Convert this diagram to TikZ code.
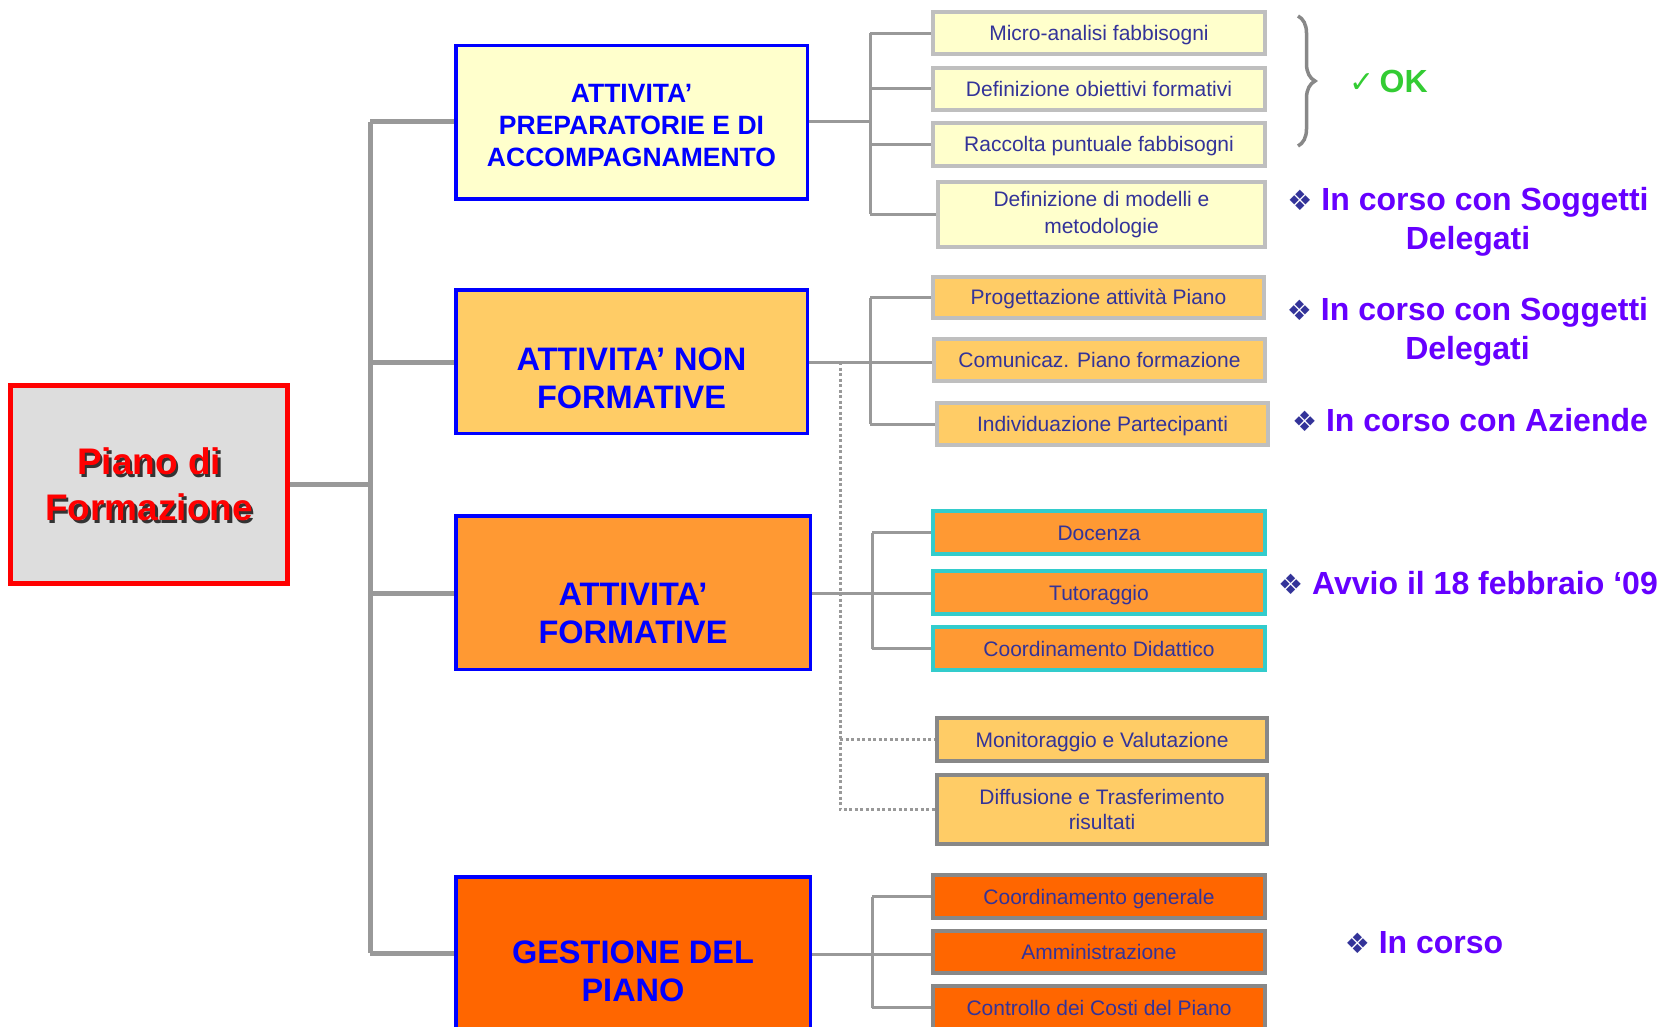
\documentclass[tikz,border=0pt]{standalone}
\usepackage{fontspec}
\setmainfont{Liberation Sans}
\newfontfamily\dejavu{DejaVu Sans}
\usetikzlibrary{decorations.pathreplacing}
\definecolor{bigblue}{HTML}{0000FF}
\definecolor{childtext}{HTML}{333399}
\definecolor{labelpurple}{HTML}{6600FF}
\definecolor{okgreen}{HTML}{33CC33}
\definecolor{linegray}{HTML}{999999}
\definecolor{lightborder}{HTML}{BFBFBF}
\definecolor{darkborder}{HTML}{888888}
\definecolor{cyanborder}{HTML}{33CCCC}
\definecolor{fyellow}{HTML}{FFFFCC}
\definecolor{forangelight}{HTML}{FFCC66}
\definecolor{forange}{HTML}{FF9933}
\definecolor{fdeeporange}{HTML}{FF6600}
\definecolor{fgray}{HTML}{DDDDDD}
\newcommand{\mybullet}{{\dejavu\color{childtext}\fontsize{28}{28}\selectfont ❖}}
\begin{document}
\begin{tikzpicture}[x=1pt,y=-1pt,
  bigbox/.style={draw=bigblue, line width=3.5pt, inner sep=0pt},
  bigtext/.style={text=bigblue, align=center, inner sep=0pt, font=\bfseries\fontsize{32.5}{38}\selectfont},
  childbox/.style={line width=4pt, text=childtext, align=center, inner sep=0pt,
    minimum width=332pt, minimum height=42pt, font=\fontsize{21}{26}\selectfont},
  oneline/.style={text height=15pt, text depth=0pt},
  cyellow/.style={childbox, draw=lightborder, fill=fyellow},
  corange/.style={childbox, draw=lightborder, fill=forangelight},
  ccyan/.style={childbox, draw=cyanborder, fill=forange},
  cmon/.style={childbox, draw=darkborder, fill=forangelight},
  cdeep/.style={childbox, draw=darkborder, fill=fdeeporange},
  trunk/.style={draw=linegray, line width=5pt},
  twig/.style={draw=linegray, line width=3pt},
  dotline/.style={draw=linegray, line width=3pt, dash pattern=on 3pt off 2.5pt},
  status/.style={text=labelpurple, align=center, inner sep=0pt, font=\bfseries\fontsize{32}{39}\selectfont}
]
\useasboundingbox (0,0) rectangle (1663,1027);
\clip (0,0) rectangle (1663,1027);

% ---------- main box ----------
\node[draw=red, line width=5pt, fill=fgray, minimum width=277pt, minimum height=198pt, inner sep=0pt] (main) at (149,484.5) {};
\node[text=black!80, align=center, inner sep=0pt, font=\bfseries\fontsize{37}{46}\selectfont] (mainshadow) at (151.5,487) {Piano di\\Formazione};
\node[text=red, align=center, inner sep=0pt, font=\bfseries\fontsize{37}{46}\selectfont] (maintext) at (149,484.5) {Piano di\\Formazione};

% ---------- big boxes ----------
\node[bigbox, fill=fyellow, minimum width=351.5pt, minimum height=153.5pt] (b1) at (631.5,122.5) {};
\node[bigtext, font=\bfseries\fontsize{26.5}{32}\selectfont] (b1t) at (631.5,125.5) {ATTIVITA’\\PREPARATORIE E DI\\ACCOMPAGNAMENTO};

\node[bigbox, fill=forangelight, minimum width=351.5pt, minimum height=143.5pt] (b2) at (631.5,361.5) {};
\node[bigtext] (b2t) at (631.5,378) {ATTIVITA’ NON\\FORMATIVE};

\node[bigbox, fill=forange, minimum width=354.5pt, minimum height=153.5pt] (b3) at (633,592.5) {};
\node[bigtext] (b3t) at (633,613.5) {ATTIVITA’\\FORMATIVE};

\node[bigbox, fill=fdeeporange, minimum width=354.5pt, minimum height=188pt] (b4) at (633,971) {};
\node[bigtext] (b4t) at (633,971) {GESTIONE DEL\\PIANO};

% ---------- children ----------
\node[cyellow, oneline] (c11) at (1099,33.5) {Micro-analisi fabbisogni};
\node[cyellow, oneline] (c12) at (1099,89) {Definizione obiettivi formativi};
\node[cyellow, oneline, minimum height=43pt] (c13) at (1099,144.5) {Raccolta puntuale fabbisogni};
\node[cyellow, minimum width=327pt, minimum height=65pt] (c14) at (1101.5,214.5) {Definizione di modelli e\\[1pt]metodologie};

\node[corange, oneline, minimum width=331pt, minimum height=41pt] (c21) at (1098.5,297.5) {Progettazione attività Piano};
\node[corange, oneline, minimum width=331pt] (c22) at (1099.5,360) {Comunicaz. Piano formazione};
\node[corange, oneline, minimum width=331pt] (c23) at (1102.5,424) {Individuazione Partecipanti};

\node[ccyan, oneline, minimum height=43pt] (c31) at (1099,532.5) {Docenza};
\node[ccyan, oneline, minimum height=43pt] (c32) at (1099,592.5) {Tutoraggio};
\node[ccyan, oneline, minimum height=43pt] (c33) at (1099,648.5) {Coordinamento Didattico};

\node[cmon, oneline, minimum width=330pt, minimum height=43pt] (m1) at (1102,739.5) {Monitoraggio e Valutazione};
\node[cmon, minimum width=330pt, minimum height=69pt, font=\fontsize{21}{25}\selectfont] (m2) at (1102,809.5) {Diffusione e Trasferimento\\risultati};

\node[cdeep, oneline, minimum height=43pt] (c41) at (1099,896.5) {Coordinamento generale};
\node[cdeep, oneline] (c42) at (1099,952) {Amministrazione};
\node[cdeep, oneline, minimum height=43pt] (c43) at (1099,1007.5) {Controllo dei Costi del Piano};

% ---------- trunk connectors ----------
\coordinate (t1) at (370,122);
\coordinate (t2) at (370,362);
\coordinate (t3) at (370,593);
\coordinate (t4) at (370,953);
\draw[trunk] (main.east) -- (main.east -| t1);
\draw[trunk] (t1) -- (t4);
\draw[trunk] (t1) -- (b1.west |- t1);
\draw[trunk] (t2) -- (b2.west |- t2);
\draw[trunk] (t3) -- (b3.west |- t3);
\draw[trunk] (t4) -- (b4.west |- t4);

% ---------- group 1 ----------
\coordinate (g1) at (870,122);
\draw[twig] (b1.east |- g1) -- (g1);
\draw[twig] (g1 |- c11.west) -- (g1 |- c14.west);
\draw[twig] (g1 |- c11.west) -- (c11.west);
\draw[twig] (g1 |- c12.west) -- (c12.west);
\draw[twig] (g1 |- c13.west) -- (c13.west);
\draw[twig] (g1 |- c14.west) -- (c14.west);

% ---------- group 2 ----------
\coordinate (g2) at (870,362);
\draw[twig] (b2.east |- g2) -- (g2);
\draw[twig] (g2 |- c21.west) -- (g2 |- c23.west);
\draw[twig] (g2 |- c21.west) -- (c21.west);
\draw[twig] (g2) -- (g2 -| c22.west);
\draw[twig] (g2 |- c23.west) -- (c23.west);

% ---------- dotted branch ----------
\coordinate (d0) at (840,362);
\draw[dotline] (d0) -- (d0 |- m2.west) -- (m2.west);
\draw[dotline] (d0 |- m1.west) -- (m1.west);

% ---------- group 3 ----------
\coordinate (g3) at (872,593);
\draw[twig] (b3.east |- g3) -- (g3);
\draw[twig] (g3 |- c31.west) -- (g3 |- c33.west);
\draw[twig] (g3 |- c31.west) -- (c31.west);
\draw[twig] (g3) -- (g3 -| c32.west);
\draw[twig] (g3 |- c33.west) -- (c33.west);

% ---------- group 4 ----------
\coordinate (g4) at (872,954);
\draw[twig] (b4.east |- g4) -- (g4);
\draw[twig] (g4 |- c41.west) -- (g4 |- c43.west);
\draw[twig] (g4 |- c41.west) -- (c41.west);
\draw[twig] (g4) -- (g4 -| c42.west);
\draw[twig] (g4 |- c43.west) -- (c43.west);

% ---------- brace and OK ----------
\coordinate (br1) at (1298,16);
\coordinate (br2) at (1298,146);
\draw[draw=darkborder, line width=3.5pt, decorate, decoration={brace, amplitude=17pt}] (br1) -- (br2);
\node[anchor=west, text=okgreen, inner sep=0pt, font=\bfseries\fontsize{32}{36}\selectfont] (ok) at (1349,81) {{\dejavu\fontsize{30}{34}\selectfont ✓}\,OK};

% ---------- status labels ----------
\node[status] (s1) at (1468,222) {\mybullet\ In corso con Soggetti\\Delegati};
\node[status] (s2) at (1467.5,332) {\mybullet\ In corso con Soggetti\\Delegati};
\node[status] (s3) at (1470,420) {\mybullet\ In corso con Aziende};
\node[status] (s4) at (1468,583) {\mybullet\ Avvio il 18 febbraio ‘09};
\node[status] (s5) at (1424,943) {\mybullet\ In corso};
\end{tikzpicture}
\end{document}
